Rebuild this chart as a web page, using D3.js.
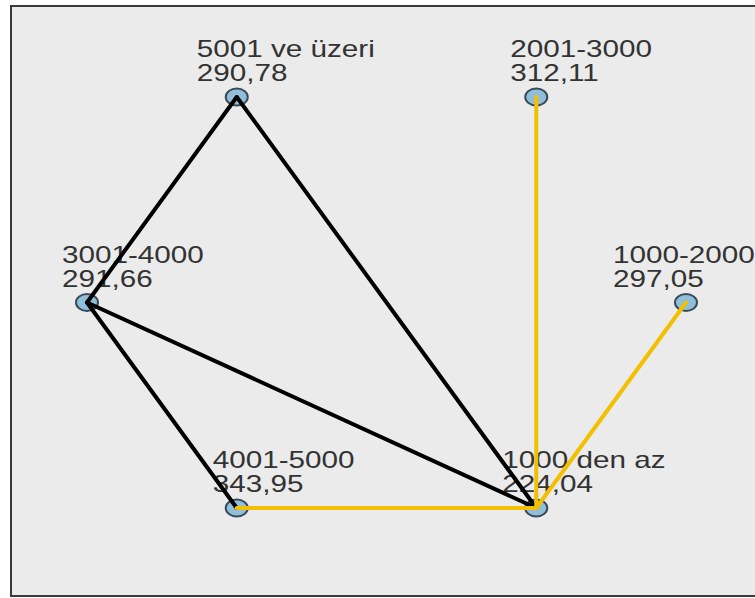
<!DOCTYPE html>
<html>
<head>
<meta charset="utf-8">
<script src="https://cdn.jsdelivr.net/npm/d3@7"></script>
<style>
html,body{margin:0;padding:0;background:#fff;}
svg{display:block;}
</style>
</head>
<body>
<svg id="chart" width="755" height="598"></svg>
<script>
// Categories, in slot order around the hexagon (starting at the right, going counter-clockwise on screen)
const categories = ["1000-2000", "2001-3000", "5001 ve üzeri", "3001-4000", "4001-5000", "1000 den az"];
// Mean rank values per category
const meanRanks = [297.05, 312.11, 290.78, 291.66, 343.95, 224.04];
// Pairwise comparison edges: [from, to, significant]
const edgeFrom = ["5001 ve üzeri", "5001 ve üzeri", "3001-4000", "3001-4000", "2001-3000", "1000-2000", "4001-5000"];
const edgeTo   = ["3001-4000", "1000 den az", "4001-5000", "1000 den az", "1000 den az", "1000 den az", "1000 den az"];
const edgeSig  = [false, false, false, false, true, true, true];

// layout (not data)
const labelDx = [-73, -26, -40, -25, -24, -34];

const svg = d3.select("#chart");
const W = 755, H = 598;

const locale = d3.formatLocale({decimal: ",", thousands: ".", grouping: [3], currency: ["", ""]});
const fmt = locale.format(".2f");

// frame
svg.append("rect").attr("x", 0).attr("y", 0).attr("width", W).attr("height", H).attr("fill", "#fff");
svg.append("rect").attr("x", 11).attr("y", 6).attr("width", 760).attr("height", 590)
  .attr("fill", "#ebebeb").attr("stroke", "#3a3a3a").attr("stroke-width", 2);

// position scales
const angle = d3.scaleLinear().domain([0, categories.length]).range([0, -2 * Math.PI]);
const xs = d3.scaleLinear().domain([-1, 1]).range([87, 686]);
const ys = d3.scaleLinear().domain([-1, 1]).range([302.5 - 237.3, 302.5 + 237.3]);

const nodes = categories.map((c, i) => {
  const a = angle(i);
  return {name: c, value: meanRanks[i], x: xs(Math.cos(a)), y: ys(Math.sin(a)), dx: labelDx[i]};
});
const byName = new Map(nodes.map(n => [n.name, n]));
const edges = edgeFrom.map((f, i) => ({s: byName.get(f), t: byName.get(edgeTo[i]), sig: edgeSig[i]}));

// labels
const lab = svg.append("g").selectAll("g").data(nodes).join("g")
  .attr("transform", d => `translate(${d.x + d.dx},${d.y}) scale(1.29,1)`)
  .attr("font-family", "'Liberation Sans', Arial, sans-serif")
  .attr("font-size", 23).attr("fill", "#333");
lab.append("text").attr("x", 0).attr("y", -40).text(d => d.name);
lab.append("text").attr("x", 0).attr("y", -16).text(d => fmt(d.value));

// nodes
svg.append("g").selectAll("ellipse").data(nodes).join("ellipse")
  .attr("cx", d => d.x).attr("cy", d => d.y).attr("rx", 11).attr("ry", 8.5)
  .attr("fill", "#8fbfdb").attr("stroke", "#3b4a55").attr("stroke-width", 2);

// edges
svg.append("g").selectAll("line").data(edges).join("line")
  .attr("x1", d => d.s.x).attr("y1", d => d.s.y)
  .attr("x2", d => d.t.x).attr("y2", d => d.t.y)
  .attr("stroke", d => d.sig ? "#f2c000" : "#000")
  .attr("stroke-width", 4).attr("stroke-linecap", "round");
</script>
</body>
</html>
